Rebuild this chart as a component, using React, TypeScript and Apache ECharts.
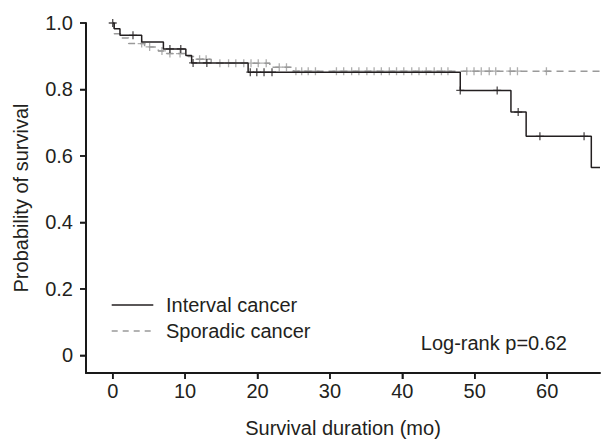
import React, { useEffect, useRef } from "react";
import * as echarts from "echarts";

const xTicks = [0, 10, 20, 30, 40, 50, 60];
const yTicks = [0, 0.2, 0.4, 0.6, 0.8, 1.0];

const intervalTimes = [0, 0.2, 1.0, 4.0, 7.0, 10.1, 10.9, 18.7, 48.0, 55.0, 57.1, 66.1];
const intervalSurv = [1.0, 0.983, 0.963, 0.943, 0.922, 0.902, 0.88, 0.852, 0.797, 0.732, 0.659, 0.565];
const intervalCensor = [0, 2.8, 7.9, 9.4, 11.1, 13.0, 19.0, 19.9, 20.9, 22.0, 48.0, 53.1, 56.0, 59.0, 65.1];

const sporadicTimes = [0, 0.2, 1.2, 2.2, 4.4, 6.3, 7.5, 10.4, 11.3, 13.6, 21.7, 25.0];
const sporadicSurv = [1.0, 0.968, 0.955, 0.938, 0.928, 0.916, 0.908, 0.899, 0.891, 0.879, 0.867, 0.855];
const sporadicCensor = [
  4.0, 5.1, 6.8, 7.9, 9.3, 12.0, 12.9, 14.8, 16.0, 17.0, 18.1, 19.1, 20.1, 21.2, 23.0, 24.0,
  25.3, 26.1, 27.0, 28.0, 30.9, 31.9, 33.0, 34.0, 35.1, 36.1, 37.1, 38.2, 39.2, 40.2, 41.3,
  42.3, 43.3, 44.4, 45.4, 46.3, 48.9, 49.9, 50.9, 52.0, 52.9, 54.9, 55.9, 59.9,
];

const seriesNames = ["Interval cancer", "Sporadic cancer"];
const annotation = "Log-rank p=0.62";

const X_MIN = -3.69;
const X_MAX = 67.3;
const Y_MIN = -0.053;
const Y_MAX = 1.0;

const BLACK = "#231f20";
const AXIS = "#1a1a1a";
const GRAY = "#9a9a9a";
const FONT = "Liberation Sans, Arial, sans-serif";
const TICK_LEN = 6;

function stepData(times: number[], surv: number[]) {
  const d = times.map((t, i) => [t, surv[i]]);
  d.push([X_MAX, surv[surv.length - 1]]);
  return d;
}

function survAt(times: number[], surv: number[], t: number) {
  let s = surv[0];
  for (let i = 0; i < times.length; i++) {
    if (times[i] <= t) s = surv[i];
  }
  return s;
}

const PLUS = "path://M5 0 L5 10 M0 5 L10 5";

export default function App() {
  const ref = useRef<HTMLDivElement>(null);
  useEffect(() => {
    if (!ref.current) return;
    const chart = echarts.init(ref.current, undefined, { renderer: "svg" });
    const legendItem = (i: number, y: number, color: string, dash: number[] | null) => [
      {
        type: "line",
        shape: { x1: 111.7, y1: y, x2: 153.3, y2: y },
        style: { stroke: color, lineWidth: 1.5, lineDash: dash || undefined },
      },
      {
        type: "text",
        x: 166,
        y,
        style: {
          text: seriesNames[i],
          fontSize: 20,
          fontFamily: FONT,
          fill: BLACK,
          align: "left",
          verticalAlign: "middle",
        },
      },
    ];
    const axisStroke = { stroke: AXIS, lineWidth: 1.5, opacity: 1 };
    const renderAxes = (_params: any, api: any) => {
      const origin = api.coord([X_MIN, Y_MIN]);
      const xEnd = api.coord([X_MAX, Y_MIN]);
      const yEnd = api.coord([X_MIN, Y_MAX]);
      const children: any[] = [
        { type: "line", shape: { x1: origin[0], y1: origin[1], x2: xEnd[0], y2: xEnd[1] }, style: axisStroke },
        { type: "line", shape: { x1: origin[0], y1: origin[1], x2: yEnd[0], y2: yEnd[1] }, style: axisStroke },
      ];
      xTicks.forEach((t) => {
        const p = api.coord([t, Y_MIN]);
        children.push({
          type: "line",
          shape: { x1: p[0], y1: p[1], x2: p[0], y2: p[1] + TICK_LEN },
          style: axisStroke,
        });
      });
      yTicks.forEach((v) => {
        const p = api.coord([X_MIN, v]);
        children.push({
          type: "line",
          shape: { x1: p[0], y1: p[1], x2: p[0] - TICK_LEN, y2: p[1] },
          style: axisStroke,
        });
      });
      return { type: "group", children };
    };
    chart.setOption({
      animation: false,
      grid: { left: 86, right: 1, top: 23, bottom: 69, outerBoundsMode: "none" },
      xAxis: {
        type: "value",
        min: X_MIN,
        max: X_MAX,
        position: "bottom",
        splitLine: { show: false },
        axisLine: { show: true, onZero: false, lineStyle: { color: AXIS, width: 2 } },
        name: "Survival duration (mo)",
        nameLocation: "middle",
        nameGap: 45,
        nameTextStyle: { fontSize: 20, color: BLACK, fontFamily: FONT },
        axisTick: {
          show: true,
          customValues: xTicks,
          length: TICK_LEN,
          lineStyle: { color: AXIS, width: 1.5 },
        },
        axisLabel: {
          customValues: xTicks,
          margin: 8,
          fontSize: 20,
          color: BLACK,
          fontFamily: FONT,
        },
      },
      yAxis: {
        type: "value",
        min: Y_MIN,
        max: Y_MAX,
        position: "left",
        splitLine: { show: false },
        axisLine: { show: true, onZero: false, lineStyle: { color: AXIS, width: 2 } },
        name: "Probability of survival",
        nameLocation: "middle",
        nameGap: 55,
        nameTextStyle: { fontSize: 20, color: BLACK, fontFamily: FONT },
        axisTick: {
          show: true,
          customValues: yTicks,
          length: TICK_LEN,
          lineStyle: { color: AXIS, width: 1.5 },
        },
        axisLabel: {
          customValues: yTicks,
          margin: 13,
          fontSize: 20,
          color: BLACK,
          fontFamily: FONT,
          formatter: (v: number) => (v === 0 ? "0" : v.toFixed(1)),
        },
      },
      graphic: [
        ...legendItem(0, 305, BLACK, null),
        ...legendItem(1, 331, GRAY, [6, 5]),
        {
          type: "text",
          x: 567,
          y: 343,
          style: {
            text: annotation,
            fontSize: 20,
            fontFamily: FONT,
            fill: BLACK,
            align: "right",
            verticalAlign: "middle",
          },
        },
      ],
      series: [
        {
          type: "custom",
          renderItem: renderAxes,
          data: [[X_MIN, Y_MIN]],
          clip: false,
          silent: true,
          z: 10,
        },
        {
          name: seriesNames[1],
          type: "line",
          step: "end",
          symbol: "none",
          data: stepData(sporadicTimes, sporadicSurv),
          lineStyle: { color: GRAY, width: 1.5, type: [7, 5] },
          itemStyle: { color: GRAY },
          z: 2,
        },
        {
          name: seriesNames[0],
          type: "line",
          step: "end",
          symbol: "none",
          data: stepData(intervalTimes, intervalSurv),
          lineStyle: { color: BLACK, width: 1.5 },
          itemStyle: { color: BLACK },
          z: 3,
        },
        {
          type: "scatter",
          symbol: PLUS,
          symbolSize: 8,
          data: sporadicCensor.map((t) => [t, survAt(sporadicTimes, sporadicSurv, t)]),
          itemStyle: { color: "transparent", borderColor: GRAY, borderWidth: 1.3 },
          z: 2,
          silent: true,
        },
        {
          type: "scatter",
          symbol: PLUS,
          symbolSize: 8,
          data: intervalCensor.map((t) => [t, survAt(intervalTimes, intervalSurv, t)]),
          itemStyle: { color: "transparent", borderColor: BLACK, borderWidth: 1.3 },
          z: 3,
          silent: true,
        },
      ],
    });
    return () => chart.dispose();
  }, []);
  return (
    <div
      ref={ref}
      style={{ position: "fixed", left: 0, top: 0, width: 601, height: 442, background: "#fff" }}
    />
  );
}
